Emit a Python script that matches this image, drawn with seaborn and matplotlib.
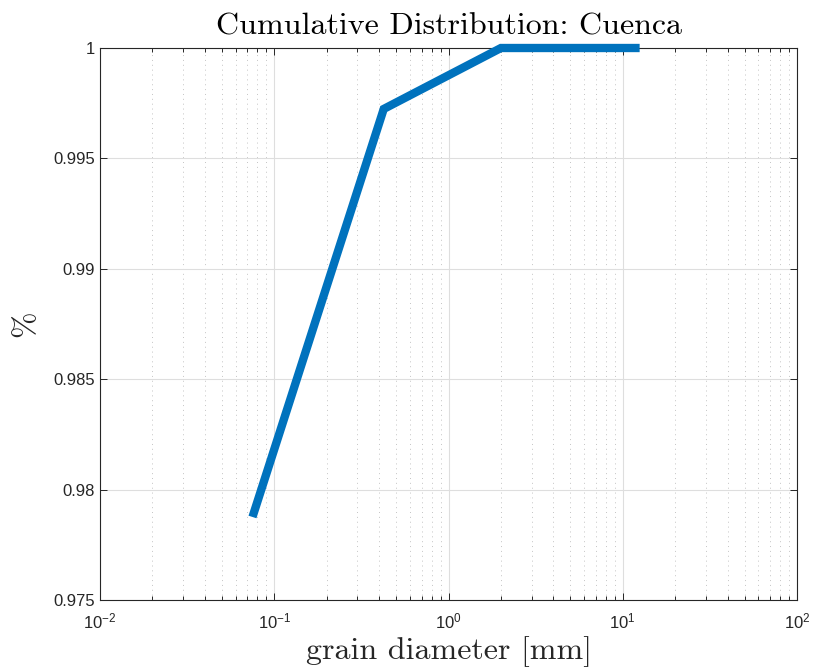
import matplotlib
matplotlib.use("Agg")
import matplotlib.pyplot as plt
import matplotlib.ticker as mticker
import numpy as np
import pandas as pd
import seaborn as sns

# Sieve sizes and cumulative fraction passing
grain_diameter_mm = [0.075, 0.425, 2.0, 12.5]
cumulative_fraction = [0.97876, 0.99724, 1.0, 1.0]

title_text = "Cumulative Distribution: Cuenca"
xlabel_text = "grain diameter [mm]"
ylabel_text = "%"
ytick_values = [0.975, 0.98, 0.985, 0.99, 0.995, 1.0]

sns.set_style("ticks")
plt.rcParams["font.family"] = ["Liberation Sans", "DejaVu Sans"]
plt.rcParams["mathtext.fontset"] = "custom"
plt.rcParams["mathtext.rm"] = "Liberation Sans"
plt.rcParams["mathtext.it"] = "Liberation Sans:italic"
plt.rcParams["mathtext.bf"] = "Liberation Sans:bold"

df = pd.DataFrame({"d": grain_diameter_mm, "p": cumulative_fraction})

fig = plt.figure(figsize=(8.14, 6.69), dpi=100)
ax = fig.add_axes([100 / 814, 1 - 600 / 669, 697 / 814, 552 / 669])

sns.lineplot(data=df, x="d", y="p", ax=ax, color="#0072BD", linewidth=6.0,
             solid_joinstyle="miter", solid_capstyle="butt", clip_on=False,
             zorder=5)

ax.set_xscale("log")
ax.set_xlim(1e-2, 1e2)
ax.set_ylim(0.975, 1.0)
ax.set_yticks(ytick_values)
ax.yaxis.set_major_formatter(mticker.FormatStrFormatter("%g"))
ax.xaxis.set_major_locator(mticker.LogLocator(base=10, numticks=10))
ax.xaxis.set_minor_locator(mticker.LogLocator(base=10, subs=np.arange(2, 10), numticks=20))
ax.xaxis.set_minor_formatter(mticker.NullFormatter())

# Grid: solid major lines, dotted minor lines on the log axis
ax.grid(which="major", axis="both", color="#dedede", linewidth=0.8, linestyle="-")
ax.grid(which="minor", axis="x", color="#c4c4c4", linewidth=0.7, linestyle=(0, (1, 4)))
ax.set_axisbelow(True)

for side in ["top", "right", "left", "bottom"]:
    ax.spines[side].set_visible(True)
    ax.spines[side].set_color("#262626")
    ax.spines[side].set_linewidth(0.8)

ax.tick_params(which="both", direction="in", top=True, right=True,
               colors="#262626", labelsize=12, width=0.7)
ax.tick_params(which="major", length=5)
ax.tick_params(which="minor", length=3)
ax.tick_params(axis="x", pad=8)

ax.set_title(title_text, fontfamily="cmr10", fontsize=23, pad=10, color="black")
ax.set_xlabel(xlabel_text, fontfamily="cmr10", fontsize=23, labelpad=4, color="#262626")
ax.set_ylabel(ylabel_text, fontfamily="cmr10", fontsize=23, labelpad=10, color="#262626")

fig.savefig("out.png", dpi=100)
